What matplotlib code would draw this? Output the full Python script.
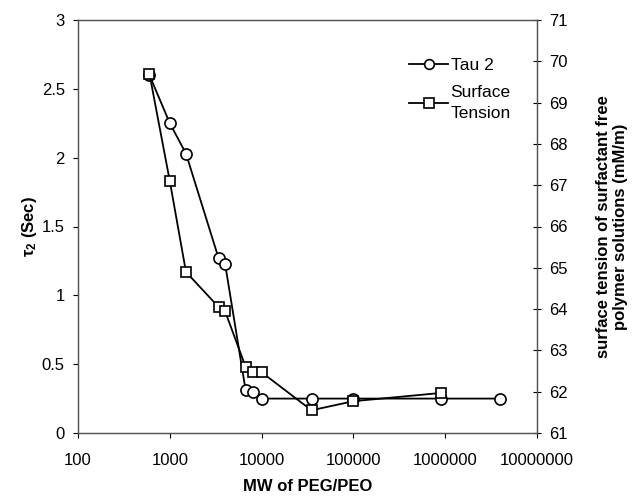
import matplotlib
matplotlib.use("Agg")
import matplotlib.pyplot as plt
from matplotlib.ticker import FixedLocator, FixedFormatter, NullLocator

plt.rcParams['font.family'] = ['Liberation Sans', 'DejaVu Sans']
plt.rcParams['mathtext.fontset'] = 'custom'
plt.rcParams['mathtext.rm'] = 'Liberation Sans'
plt.rcParams['mathtext.bf'] = 'Liberation Sans:bold'

mw = [600, 1000, 1500, 3400, 4000, 6700, 8000, 10000, 35000, 100000, 900000, 4000000]
tau2 = [2.60, 2.25, 2.03, 1.27, 1.23, 0.31, 0.30, 0.25, 0.25, 0.25, 0.25, 0.25]

mw_st = [600, 1000, 1500, 3400, 4000, 6700, 8000, 10000, 35000, 100000, 900000]
surf_tension = [69.7, 67.1, 64.9, 64.05, 63.95, 62.6, 62.47, 62.47, 61.55, 61.77, 61.97]

xticks = [100, 1000, 10000, 100000, 1000000, 10000000]
xticklabels = ['100', '1000', '10000', '100000', '1000000', '10000000']
yticks_left = [0, 0.5, 1, 1.5, 2, 2.5, 3]
yticklabels_left = ['0', '0.5', '1', '1.5', '2', '2.5', '3']
yticks_right = [61, 62, 63, 64, 65, 66, 67, 68, 69, 70, 71]

fig = plt.figure(figsize=(6.43, 4.96), dpi=100)
ax = fig.add_axes([78/643, 63/496, (537-78)/643, (433-20)/496])
ax2 = ax.twinx()

spine_c = '#555555'
l1, = ax.plot(mw, tau2, '-o', color='black', lw=1.3, ms=8, mfc='white', mec='black', mew=1.2, label='Tau 2', zorder=3)
l2, = ax2.plot(mw_st, surf_tension, '-s', color='black', lw=1.3, ms=7, mfc='white', mec='black', mew=1.2, label='Surface\nTension', zorder=3)

ax.set_xscale('log')
ax.set_xlim(100, 10000000)
ax.set_ylim(0, 3)
ax2.set_ylim(61, 71)
ax.xaxis.set_major_locator(FixedLocator(xticks))
ax.xaxis.set_major_formatter(FixedFormatter(xticklabels))
ax.xaxis.set_minor_locator(NullLocator())
ax.set_yticks(yticks_left)
ax.set_yticklabels(yticklabels_left)
ax2.set_yticks(yticks_right)
ax2.set_yticklabels([str(v) for v in yticks_right])

for a in (ax, ax2):
    for s in a.spines.values():
        s.set_color(spine_c)
        s.set_linewidth(0.9)

ax.tick_params(axis='both', labelsize=12, colors='black', length=3.5, width=0.8, direction='out')
ax.tick_params(axis='y', pad=6)
ax.tick_params(axis='x', pad=11)
ax2.tick_params(axis='y', labelsize=12, length=6, width=0.8, direction='inout', pad=6)

ax.set_xlabel('MW of PEG/PEO', fontsize=12, fontweight='bold', labelpad=8)
ax.set_ylabel(r'$\mathbf{\tau_2}$ (Sec)', fontsize=12, fontweight='bold', labelpad=2)
ax2.set_ylabel('surface tension of surfactant free\npolymer solutions (mM/m)', fontsize=12,
               fontweight='bold', rotation=90, labelpad=20)

leg = ax.legend([l1, l2], ['Tau 2', 'Surface\nTension'], loc='upper left',
                bbox_to_anchor=((409-78)/459, (433-58)/413), borderaxespad=0, borderpad=0,
                frameon=False, fontsize=12.5,
                handlelength=2.25, handletextpad=0.15, labelspacing=0.7)
for t in leg.get_texts():
    t.set_linespacing(1.5)
for h in leg.legend_handles:
    h.set_markersize(7)

fig.savefig('out.png', dpi=100)
